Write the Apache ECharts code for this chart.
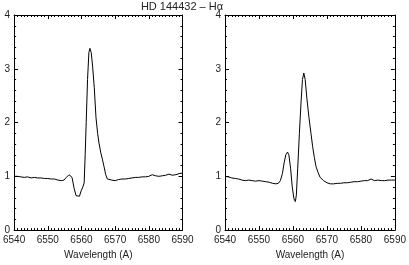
<!DOCTYPE html>
<html>
<head>
    <meta charset="UTF-8">
    <title>HD 144432 - Halpha</title>
    <script src="https://cdn.jsdelivr.net/npm/echarts@6/dist/echarts.min.js"></script>
    <style>
        html, body { margin: 0; padding: 0; background: #fff; }
        #chart { width: 409px; height: 265px; }
    </style>
</head>
<body>
    <div id="chart"></div>

    <script>
        // left panel spectrum
        const waveLeft = [6540, 6541, 6542, 6543, 6544, 6545, 6546, 6547, 6548, 6549, 6550, 6551, 6552, 6553, 6554,
            6554.8, 6555.5, 6556.3, 6556.7, 6557.2, 6557.8, 6558.4, 6558.9, 6559.4, 6559.9, 6560.4, 6560.8,
            6561.1, 6561.4, 6561.8, 6562.2, 6562.5, 6562.9, 6563.3, 6563.8, 6564.3, 6564.8, 6565.2, 6565.7,
            6566.2, 6566.7, 6567.2, 6567.7, 6568.2, 6569, 6570, 6571, 6572, 6573, 6574, 6575, 6576, 6577,
            6578, 6579, 6580, 6581, 6582, 6583, 6584, 6585, 6586, 6587, 6588, 6589, 6590];
        const fluxLeft = [1.00, 1.00, 0.99, 0.98, 0.99, 0.97, 0.98, 0.97, 0.97, 0.96, 0.96, 0.95, 0.95, 0.93, 0.92,
            0.93, 0.98, 1.03, 1.04, 0.98, 0.78, 0.64, 0.61, 0.63, 0.73, 0.80, 0.88,
            1.40, 2.00, 2.80, 3.30, 3.38, 3.30, 3.05, 2.65, 2.10, 1.80, 1.62, 1.45,
            1.32, 1.18, 1.03, 0.95, 0.93, 0.93, 0.92, 0.94, 0.95, 0.95, 0.96, 0.97, 0.98, 0.98,
            0.99, 0.99, 1.00, 1.03, 1.01, 1.00, 1.01, 1.02, 1.04, 1.02, 1.03, 1.05, 1.06];

        // right panel spectrum
        const waveRight = [6540, 6541, 6542, 6543, 6544, 6545, 6546, 6547, 6548, 6549, 6550, 6551, 6552, 6553, 6554,
            6555, 6555.7, 6556.3, 6556.9, 6557.4, 6557.9, 6558.4, 6558.8, 6559.3, 6559.8, 6560.3, 6560.7,
            6561.0, 6561.4, 6561.9, 6562.4, 6562.8, 6563.2, 6563.6, 6564.1, 6564.7, 6565.3, 6565.8, 6566.3,
            6566.8, 6567.4, 6568, 6569, 6570, 6571, 6572, 6573, 6574, 6575, 6576, 6577, 6578, 6579, 6580,
            6581, 6582, 6583, 6584, 6585, 6586, 6587, 6588, 6589, 6590];
        const fluxRight = [1.00, 0.99, 0.97, 0.96, 0.95, 0.93, 0.92, 0.93, 0.92, 0.91, 0.92, 0.91, 0.90, 0.89, 0.87,
            0.86, 0.87, 0.92, 1.05, 1.25, 1.40, 1.45, 1.40, 1.15, 0.80, 0.58, 0.53,
            0.65, 1.15, 1.80, 2.40, 2.80, 2.92, 2.80, 2.45, 2.10, 1.80, 1.55, 1.35,
            1.18, 1.07, 0.98, 0.92, 0.88, 0.86, 0.86, 0.87, 0.87, 0.88, 0.88, 0.89, 0.90, 0.90, 0.91,
            0.92, 0.92, 0.95, 0.92, 0.93, 0.92, 0.92, 0.93, 0.93, 0.93];

        const titleText = 'HD 144432 \u2013 H\u03b1';
        const xName = 'Wavelength (A)';

        const chart = echarts.init(document.getElementById('chart'));
        const font = 'Liberation Sans';
        const ink = '#222';

        function xAxisFor(gi, pos) {
            const bottom = pos === 'bottom';
            return {
                type: 'value', gridIndex: gi, position: pos,
                min: 6540, max: 6590, interval: 10,
                name: bottom ? xName : '', nameLocation: 'middle', nameGap: 19,
                nameTextStyle: { fontFamily: font, fontSize: 10, color: ink },
                axisLine: { show: true, onZero: false, lineStyle: { color: '#000', width: 1 } },
                axisTick: { show: true, inside: true, length: 4, lineStyle: { color: '#000' } },
                minorTick: { show: true, splitNumber: 10, length: 2, lineStyle: { color: '#000' } },
                axisLabel: {
                    show: bottom, margin: 5, fontFamily: font, fontSize: 10, color: ink,
                    formatter: v => String(v)
                },
                splitLine: { show: false }
            };
        }

        function yAxisFor(gi, pos) {
            const left = pos === 'left';
            return {
                type: 'value', gridIndex: gi, position: pos,
                min: 0, max: 4, interval: 1,
                axisLine: { show: true, onZero: false, lineStyle: { color: '#000', width: 1 } },
                axisTick: { show: true, inside: true, length: 4, lineStyle: { color: '#000' } },
                minorTick: { show: true, splitNumber: 5, length: 2, lineStyle: { color: '#000' } },
                axisLabel: { show: left, margin: 4, fontFamily: font, fontSize: 10, color: ink },
                splitLine: { show: false }
            };
        }

        const option = {
            animation: false,
            backgroundColor: '#fff',
            title: {
                text: titleText, left: 182, top: 1, padding: 0, textAlign: 'center',
                textStyle: { fontFamily: font, fontSize: 11, fontWeight: 'normal', color: ink }
            },
            grid: [
                { left: 12.5, top: 15, width: 170, height: 222 },
                { left: 225, top: 15, width: 171, height: 222 }
            ],
            xAxis: [xAxisFor(0, 'bottom'), xAxisFor(0, 'top'), xAxisFor(1, 'bottom'), xAxisFor(1, 'top')],
            yAxis: [yAxisFor(0, 'left'), yAxisFor(0, 'right'), yAxisFor(1, 'left'), yAxisFor(1, 'right')],
            series: [
                {
                    type: 'line', xAxisIndex: 0, yAxisIndex: 0, showSymbol: false,
                    lineStyle: { color: '#000', width: 1 },
                    data: waveLeft.map((w, i) => [w, fluxLeft[i]])
                },
                {
                    type: 'line', xAxisIndex: 2, yAxisIndex: 2, showSymbol: false,
                    lineStyle: { color: '#000', width: 1 },
                    data: waveRight.map((w, i) => [w, fluxRight[i]])
                }
            ]
        };

        chart.setOption(option);
    </script>
</body>
</html>
